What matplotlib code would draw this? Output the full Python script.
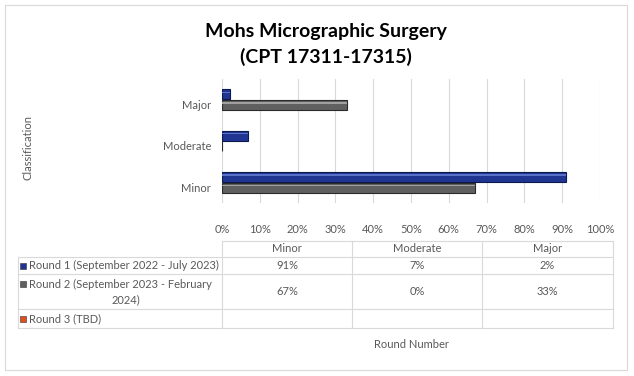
import numpy as np
import matplotlib
matplotlib.use("Agg")
import matplotlib.pyplot as plt
from matplotlib.patches import Rectangle
from matplotlib.transforms import ScaledTranslation

plt.rcParams['font.family'] = ['Lato', 'DejaVu Sans']

# data
categories = ['Minor', 'Moderate', 'Major']
series_names = ['Round 1 (September 2022 - July 2023)',
                'Round 2 (September 2023 - February\n2024)',
                'Round 3 (TBD)']
round1 = [91, 7, 2]
round2 = [67, 0, 33]
round3 = [None, None, None]
series_colors = ['#1f3591', '#606060', '#e0501e']
x_ticks = [0, 10, 20, 30, 40, 50, 60, 70, 80, 90, 100]

W, H = 634, 376
fig = plt.figure(figsize=(W / 100, H / 100), dpi=100)
txt = '#595959'
fs = 8

def px_axes(x0, y0, x1, y1):
    return fig.add_axes([x0 / W, 1 - y1 / H, (x1 - x0) / W, (y1 - y0) / H])

# chart border
border = Rectangle((4.5 / W, 1 - 370 / H), 622 / W, 365 / H, transform=fig.transFigure,
                   fill=False, edgecolor='#d9d9d9', lw=0.8)
fig.patches.append(border)

fig.text(326 / W, 1 - 32 / H, 'Mohs Micrographic Surgery', ha='center', va='center',
         fontsize=14, fontweight='bold', color='black')
fig.text(326 / W, 1 - 57 / H, '(CPT 17311-17315)', ha='center', va='center',
         fontsize=14, fontweight='bold', color='black')

ax = px_axes(222, 79, 600, 203)
y = np.arange(len(categories))
h = 0.245
ax.barh(y + h / 2 + 0.005, round1, height=h, color=series_colors[0], edgecolor='#0d1a4d', lw=0.8)
ax.barh(y - h / 2 - 0.005, round2, height=h, color=series_colors[1], edgecolor='#2a2a2a', lw=0.8)
# bevel highlight
ax.barh(y + h / 2 + 0.005 + h * 0.2, round1, height=h * 0.12, left=0, color='#5a6fc8', lw=0)
ax.barh(y - h / 2 - 0.005 + h * 0.2, round2, height=h * 0.12, left=0, color='#a0a0a0', lw=0)
ax.set_xlim(0, 100)
ax.set_ylim(-0.5, 2.5)
ax.set_xticks(x_ticks)
ax.set_xticklabels([f'{t}%' for t in x_ticks])
ax.set_yticks(y)
ax.set_yticklabels(categories)
ax.tick_params(axis='both', length=0, labelsize=fs, colors=txt)
ax.tick_params(axis='x', pad=15)
ax.tick_params(axis='y', pad=8)
for lab in ax.get_yticklabels():
    lab.set_transform(lab.get_transform() + ScaledTranslation(0, -5 / 100, fig.dpi_scale_trans))
ax.grid(axis='x', color='#d9d9d9', lw=0.8)
ax.set_axisbelow(True)
for s in ax.spines.values():
    s.set_visible(False)

fig.text(28 / W, 1 - 147 / H, 'Classification', rotation=90, ha='center', va='center',
         fontsize=fs, color=txt)

# data table
tab = fig.add_axes([0, 0, 1, 1])
tab.set_xlim(0, W)
tab.set_ylim(H, 0)
tab.axis('off')
col_x = [18, 222, 352, 482, 613]
row_y = [241, 257, 274, 309, 328]
lc = '#d9d9d9'
tab.plot([col_x[1], col_x[-1]], [row_y[0], row_y[0]], color=lc, lw=0.8)
for r in row_y[1:]:
    tab.plot([col_x[0], col_x[-1]], [r, r], color=lc, lw=0.8)
tab.plot([col_x[0], col_x[0]], [row_y[1], row_y[-1]], color=lc, lw=0.8)
for c in col_x[1:]:
    tab.plot([c, c], [row_y[0], row_y[-1]], color=lc, lw=0.8)
for j, cat in enumerate(categories):
    cx = (col_x[j + 1] + col_x[j + 2]) / 2
    tab.text(cx, (row_y[0] + row_y[1]) / 2, cat, ha='center', va='center', fontsize=fs, color=txt)
for i, (name, vals) in enumerate(zip(series_names, [round1, round2, round3])):
    cy = (row_y[i + 1] + row_y[i + 2]) / 2
    two = '\n' in name
    tab.add_patch(Rectangle((20, (cy - 11 if two else cy - 3)), 6, 6,
                            facecolor=series_colors[i], edgecolor='#333333', lw=0.4))
    if two:
        first, second = name.split('\n')
        tab.text(29, cy - 7, first, ha='left', va='center', fontsize=fs, color=txt)
        tab.text(126, cy + 8, second, ha='center', va='center', fontsize=fs, color=txt)
    else:
        tab.text(29, cy, name, ha='left', va='center', fontsize=fs, color=txt)
    for j, v in enumerate(vals):
        if v is not None:
            cx = (col_x[j + 1] + col_x[j + 2]) / 2
            tab.text(cx, cy, f'{v}%', ha='center', va='center', fontsize=fs, color=txt)

fig.text(411 / W, 1 - 345 / H, 'Round Number', ha='center', va='center', fontsize=fs, color=txt)

fig.savefig('out.png', dpi=100)
